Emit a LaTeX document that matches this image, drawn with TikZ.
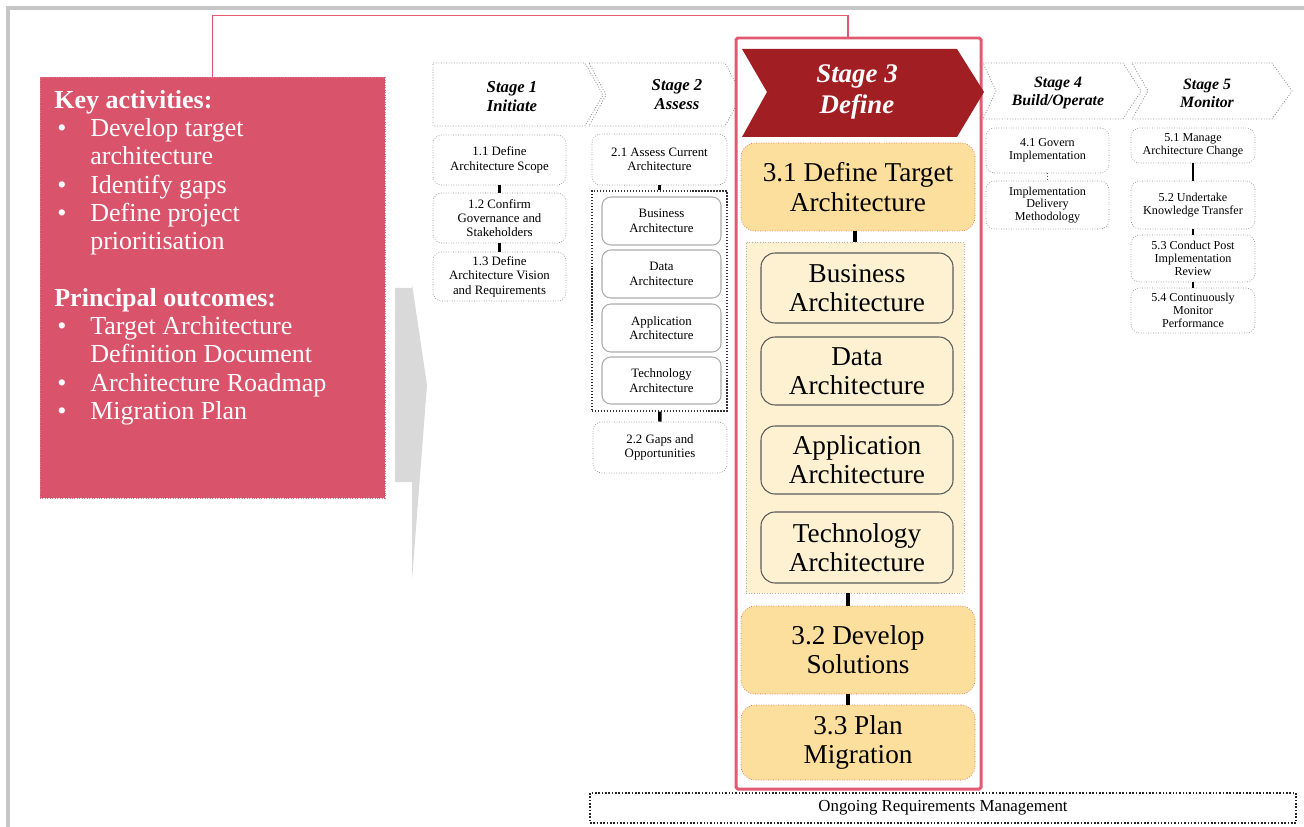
\documentclass[tikz,border=0pt]{standalone}
\usepackage{fontspec}
\setmainfont{Liberation Serif}
\usepackage{xcolor}
\usepackage{tikz}
\usetikzlibrary{positioning,calc}

\definecolor{keypink}{RGB}{217,83,107}
\definecolor{framepink}{RGB}{226,90,114}
\definecolor{stagered}{RGB}{161,31,35}
\definecolor{defsand}{RGB}{253,223,157}
\definecolor{defcream}{RGB}{253,241,210}
\definecolor{arrowgrey}{RGB}{217,217,217}

\begin{document}
\begin{tikzpicture}[x=0.02cm,y=-0.02cm,
    sz/.style 2 args={minimum width=#1*0.02cm,minimum height=#2*0.02cm},
    chev/.style={fill=white,draw=gray!85,densely dotted,line width=0.5pt},
    stagetxt/.style={align=center,inner sep=0pt,font=\fontsize{9.5}{10.8}\selectfont\bfseries\itshape},
    smallbox/.style={rectangle,rounded corners=5pt,draw=gray!90,densely dotted,fill=white,
        align=center,inner sep=0pt,font=\fontsize{7.3}{8.2}\selectfont},
    tinybox/.style={smallbox,font=\fontsize{6.9}{7.2}\selectfont},
    archbox/.style={smallbox,solid,draw=gray!65,line width=0.6pt},
    bigbox/.style={rectangle,rounded corners=8pt,draw=framepink!70!orange,densely dotted,fill=defsand,
        align=center,inner sep=0pt,font=\fontsize{15.5}{16.6}\selectfont},
    deepbox/.style={bigbox,solid,draw=black!65,line width=0.6pt,fill=defcream},
    link/.style={draw=black,line width=1.9pt},
    biglink/.style={draw=black,line width=2.4pt}
]
    \useasboundingbox (0,0) rectangle (1304,827);

    % slide edge
    \draw[gray!45,line width=1.8pt] (8,827) -- (8,8) -- (1304,8);

    % Key activities panel
    \node[fill=keypink,draw=keypink!80!white,densely dotted,sz={345}{421}] (keybox) at (212.5,287.5) {};
    \node[anchor=north west,inner sep=0pt,text=white,font=\fontsize{14.8}{16.1}\selectfont] (keylist) at (54,88) {%
        \begin{tabular}{@{\hspace{1.7pt}}p{0.66cm}@{}l@{}}
        \multicolumn{2}{@{}l@{}}{\textbf{Key activities:}}\\
        \textbullet & Develop target\\
         & architecture\\
        \textbullet & Identify gaps\\
        \textbullet & Define project\\
         & prioritisation\\
        \\
        \multicolumn{2}{@{}l@{}}{\textbf{Principal outcomes:}}\\
        \textbullet & Target Architecture\\
         & Definition Document\\
        \textbullet & Architecture Roadmap\\
        \textbullet & Migration Plan
        \end{tabular}};

    % grey arrow
    \fill[arrowgrey] (395,288) -- (412,288) -- (412,284) -- (427,385) -- (412,580) -- (412,482) -- (395,482) -- cycle;

    % Stage chevrons 1, 2
    \draw[chev] (433,63) -- (585,63) -- (603,95) -- (585,126) -- (433,126) -- cycle;
    \draw[chev] (589,63) -- (725,63) -- (742,95) -- (725,126) -- (589,126) -- (606,95) -- cycle;
    \node[stagetxt] (s1) at (512,97) {Stage 1\\Initiate};
    \node[stagetxt] (s2) at (677,95) {Stage 2\\Assess};

    % Stage 3 frame and chevron
    \node[draw=framepink,fill=white,line width=1.7pt,rounded corners=1pt,sz={245}{751}] (s3frame) at (858.5,413.5) {};
    \coordinate (frametop) at (848,38);
    \draw[framepink,line width=0.9pt] (keybox.north) -- ++(0,-61) -| (frametop);
    \fill[stagered] (742,49) -- (957,49) -- (984,92) -- (957,137) -- (742,137) -- (767,92) -- cycle;
    \node[stagetxt,text=white,font=\fontsize{15.3}{17.6}\selectfont\bfseries\itshape] (s3) at (857,92) {Stage 3\\Define};

    % Stage chevrons 4, 5
    \draw[chev] (983,63) -- (1123,63) -- (1141,91) -- (1123,119) -- (983,119) -- (996,91) -- cycle;
    \draw[chev] (1132,63) -- (1272,63) -- (1292,91) -- (1272,119) -- (1132,119) -- (1148,91) -- cycle;
    \node[stagetxt,font=\fontsize{9}{10.2}\selectfont\bfseries\itshape] (s4) at (1058,93) {Stage 4\\Build/Operate};
    \node[stagetxt,font=\fontsize{9}{10.2}\selectfont\bfseries\itshape] (s5) at (1207,93) {Stage 5\\Monitor};

    % Stage 1 steps
    \node[smallbox,sz={133}{50}] (b11) at (499.5,160) {1.1 Define\\Architecture Scope};
    \node[smallbox,sz={133}{50}] (b12) at (499.5,218) {1.2 Confirm\\Governance and\\Stakeholders};
    \node[smallbox,sz={133}{49}] (b13) at (499.5,276.5) {1.3 Define\\Architecture Vision\\and Requirements};
    \draw[link] (b11) -- (b12);
    \draw[link] (b12) -- (b13);

    % Stage 2 steps
    \node[smallbox,sz={135}{51}] (b21) at (659.5,159.5) {2.1 Assess Current\\Architecture};
    \node[draw=black!80,densely dotted,line width=0.7pt,sz={135}{220}] (c2) at (659.5,301) {};
    \node[archbox,sz={119}{48}] (i2a) at (661.5,221) {Business\\Architecture};
    \node[archbox,sz={119}{48}] (i2b) at (661.5,274) {Data\\Architecture};
    \node[archbox,sz={119}{48}] (i2c) at (661.5,328) {Application\\Architecture};
    \node[archbox,sz={119}{47}] (i2d) at (661.5,380.5) {Technology\\Architecture};
    \node[smallbox,sz={134}{51}] (b22) at (660,447.5) {2.2 Gaps and\\Opportunities};
    \draw[link,line width=1.2pt] (b21) -- (c2);
    \draw[link] (c2) -- (b22);

    % Stage 3 steps
    \node[bigbox,sz={234}{88}] (b31) at (858,187) {3.1 Define Target\\Architecture};
    \node[fill=defcream,draw=gray!60,densely dotted,line width=0.5pt,sz={218}{351}] (c3) at (855,417.5) {};
    \node[deepbox,sz={192}{70}] (i3a) at (857,288) {Business\\Architecture};
    \node[deepbox,sz={192}{68}] (i3b) at (857,371) {Data\\Architecture};
    \node[deepbox,sz={192}{68}] (i3c) at (857,460) {Application\\Architecture};
    \node[deepbox,sz={192}{71}] (i3d) at (857,547.5) {Technology\\Architecture};
    \node[bigbox,sz={234}{88}] (b32) at (858,650) {3.2 Develop\\Solutions};
    \node[bigbox,sz={234}{75}] (b33) at (858,742.5) {3.3 Plan\\Migration};
    \coordinate (spine) at (848,0);
    \draw[biglink] (c3.north) -- (c3.north |- b31.south);
    \draw[biglink] (c3.south -| spine) -- (b32.north -| spine);
    \draw[biglink] (b32.south -| spine) -- (b33.north -| spine);

    % Stage 4 steps
    \node[tinybox,sz={123}{45}] (b41) at (1047.5,150.5) {4.1 Govern\\Implementation};
    \node[tinybox,sz={123}{48}] (b42) at (1047.5,205) {Implementation\\Delivery\\Methodology};
    \draw[black!70,densely dotted,line width=0.6pt] (b41) -- (b42);

    % Stage 5 steps
    \node[tinybox,sz={124}{35}] (b51) at (1193,145.5) {5.1 Manage\\Architecture Change};
    \node[tinybox,sz={124}{48}] (b52) at (1193,205) {5.2 Undertake\\Knowledge Transfer};
    \node[tinybox,sz={124}{47}] (b53) at (1193,258.5) {5.3 Conduct Post\\Implementation\\Review};
    \node[tinybox,sz={124}{45}] (b54) at (1193,310.5) {5.4 Continuously\\Monitor\\Performance};
    \draw[link,line width=1.3pt] (b51) -- (b52);
    \draw[link,line width=1.3pt] (b52) -- (b53);
    \draw[link,line width=1.3pt] (b53) -- (b54);

    % Ongoing requirements
    \node[draw=black!85,densely dotted,line width=0.9pt,inner sep=0pt,font=\fontsize{9.6}{11}\selectfont,sz={706}{30}] (ongoing) at (943,808) {Ongoing Requirements Management};
\end{tikzpicture}
\end{document}
